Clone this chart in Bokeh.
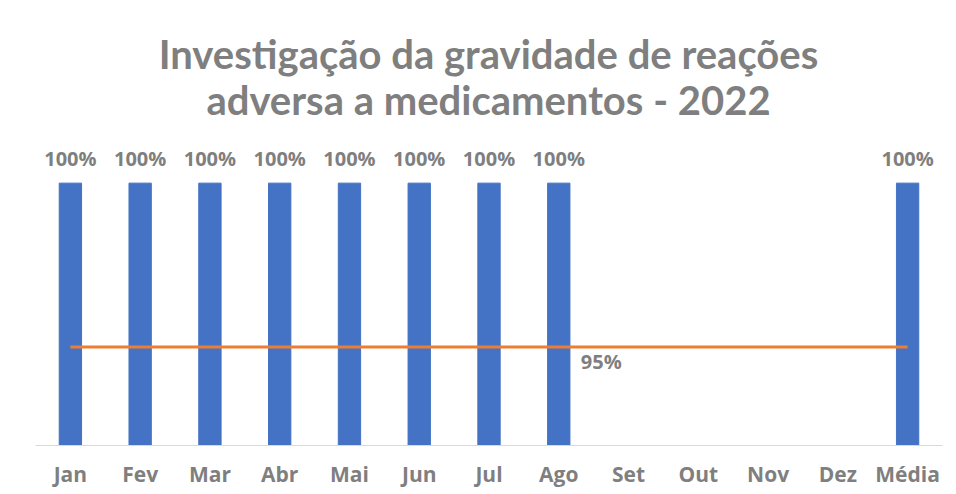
from bokeh.plotting import figure
from bokeh.models import ColumnDataSource, LabelSet, FactorRange, Range1d, Label, Div
from bokeh.layouts import column
from bokeh.embed import file_html
from bokeh.resources import INLINE
from bokeh.core.properties import value

categories = ["Jan", "Fev", "Mar", "Abr", "Mai", "Jun", "Jul", "Ago", "Set", "Out", "Nov", "Dez", "Média"]
realizado = [100, 100, 100, 100, 100, 100, 100, 100, None, None, None, None, 100]
meta = [95] * 13
title_lines = ["Investigação da gravidade de reações", "adversa a medicamentos - 2022"]

vals = [v if v is not None else float("nan") for v in realizado]
labels = [f"{v:.0f}%" if v is not None else "" for v in realizado]
src = ColumnDataSource(dict(x=categories, top=vals, lab=labels))

W = 956
TITLE_H = 130
LEFT, RIGHT, TOP, BOTTOM = 35, 14, 10, 49

title = Div(text="<br>".join(title_lines), width=W - LEFT - RIGHT, height=TITLE_H,
            margin=(0, 0, 0, LEFT),
            styles={"text-align": "center", "font-family": "Lato", "font-weight": "bold",
                    "font-size": "40px", "line-height": "46px", "color": "#7f7f7f",
                    "padding-top": "31px", "box-sizing": "border-box"})

p = figure(width=W, height=494 - TITLE_H, output_backend="svg", toolbar_location=None,
           x_range=FactorRange(*categories, range_padding=0),
           y_range=Range1d(92, 101.3), margin=0)
p.min_border_left = LEFT
p.min_border_right = RIGHT
p.min_border_bottom = BOTTOM
p.min_border_top = TOP
p.outline_line_color = None
p.background_fill_color = "white"
p.border_fill_color = "white"

p.vbar(x="x", top="top", bottom=92, width=0.32, source=src, color="#4472C4")
p.line(x=categories, y=meta, line_color="#ED7D31", line_width=3)

p.add_layout(LabelSet(x="x", y="top", text="lab", source=src, text_align="center",
                      text_baseline="bottom", y_offset=11, text_color="#7f7f7f",
                      text_font=value("Open Sans"), text_font_style="bold",
                      text_font_size="20px"))
ago = categories.index("Ago") + 0.5
p.add_layout(Label(x=ago, y=meta[7], text=f"{meta[7]}%", x_offset=22, y_offset=-1,
                   text_baseline="top", text_align="left", text_color="#7f7f7f",
                   text_font="Open Sans", text_font_style="bold", text_font_size="20px"))

p.yaxis.visible = False
p.xgrid.visible = False
p.ygrid.visible = False
p.xaxis.axis_line_color = "#d9d9d9"
p.xaxis.major_tick_line_color = None
p.xaxis.minor_tick_line_color = None
p.xaxis.major_label_text_color = "#7f7f7f"
p.xaxis.major_label_text_font = "Open Sans"
p.xaxis.major_label_text_font_style = "bold"
p.xaxis.major_label_text_font_size = "21px"
p.xaxis.major_label_standoff = 8

layout = column(title, p, spacing=0, margin=0)
open("out.html", "w").write(file_html(layout, INLINE))
